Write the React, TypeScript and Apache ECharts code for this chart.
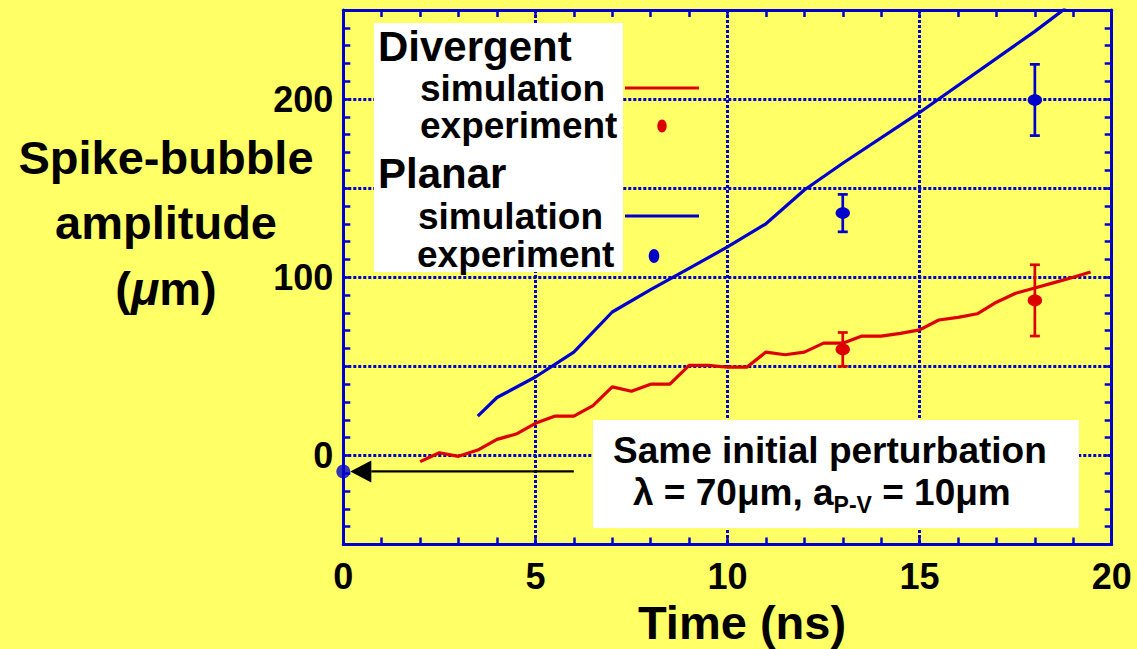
import React, { useEffect, useRef } from 'react';
import * as echarts from 'echarts';

const BLUE = '#0000cc';
const RED = '#dd0000';
const YELLOW = '#ffff66';
const FONT = '"Liberation Sans", Arial, Helvetica, sans-serif';

// Divergent geometry – simulation (ns, µm)
const divSimTime = [2, 2.5, 3, 3.5, 4, 4.5, 5, 5.5, 6, 6.5, 7, 7.5, 8, 8.5, 9, 9.5, 10, 10.5, 11, 11.5, 12, 12.5, 13, 13.5, 14, 14.5, 15, 15.5, 16, 16.5, 17, 17.5, 18, 18.5, 19, 19.45];
const divSimAmp = [-3.5, 1.5, -0.5, 3, 9, 12, 18, 22, 22, 28, 38.5, 36, 40, 40, 50.5, 50.5, 49.5, 49.5, 58, 56.5, 58, 63, 63, 67, 67, 68.5, 70.5, 76, 77.5, 79.5, 86, 91, 94, 97, 100, 103];

// Planar geometry – simulation
const planSimTime = [3.5, 4, 5, 6, 7, 8, 9, 10, 11, 12, 13, 15, 18, 18.8];
const planSimAmp = [22, 32.5, 44, 58, 80.5, 93, 105, 117, 130, 149, 164, 192.5, 238, 251];

// Experiments with error bars
const divExpTime = [13, 18];
const divExpAmp = [59.5, 87];
const divExpErr = [9.5, 20];
const planExpTime = [13, 18];
const planExpAmp = [136, 199.5];
const planExpErr = [10.5, 20];

// Initial perturbation marker and the arrow pointing at it
const initialPoint = [0, -9];
const arrowStart = [6, -9];

const yTickLabels = [0, 100, 200];

const errorBarItem = (color: string) => (params: any, api: any) => {
  const t = api.value(0);
  const a = api.value(1);
  const e = api.value(2);
  const top = api.coord([t, a + e]);
  const bot = api.coord([t, a - e]);
  const mid = api.coord([t, a]);
  const cap = 5;
  const ls = { stroke: color, lineWidth: 2.7 };
  return {
    type: 'group',
    children: [
      { type: 'line', shape: { x1: top[0], y1: top[1], x2: bot[0], y2: bot[1] }, style: ls },
      { type: 'line', shape: { x1: top[0] - cap, y1: top[1], x2: top[0] + cap, y2: top[1] }, style: ls },
      { type: 'line', shape: { x1: bot[0] - cap, y1: bot[1], x2: bot[0] + cap, y2: bot[1] }, style: ls },
      { type: 'ellipse', shape: { cx: mid[0], cy: mid[1], rx: 7.2, ry: 5.8 }, style: { fill: color } },
    ],
  };
};

const arrowItem = (params: any, api: any) => {
  const p0 = api.coord([api.value(0), api.value(1)]);
  const p1 = api.coord([api.value(2), api.value(3)]);
  const tipX = p1[0] + 7;
  const headLen = 21;
  const half = 11;
  return {
    type: 'group',
    children: [
      { type: 'line', shape: { x1: p0[0], y1: p0[1], x2: tipX + headLen, y2: p1[1] }, style: { stroke: '#000', lineWidth: 2.2 } },
      {
        type: 'polygon',
        shape: { points: [[tipX, p1[1]], [tipX + headLen, p1[1] - half], [tipX + headLen, p1[1] + half]] },
        style: { fill: '#000' },
      },
    ],
  };
};

const frameAxis = (extra: any) => ({
  type: 'value',
  axisLine: { show: true, onZero: false, lineStyle: { color: BLUE, width: 3 } },
  axisTick: { show: true, inside: true, length: 7, lineStyle: { color: BLUE, width: 2.5 } },
  minorTick: { show: true, splitNumber: 5, length: 7, lineStyle: { color: BLUE, width: 2.5 } },
  ...extra,
});

const gridDots = { show: true, showMinLine: false, showMaxLine: false, lineStyle: { color: BLUE, width: 3, type: [3, 2] } };

const txt = (text: string, x: number, y: number, size: number, align = 'left', extra: any = {}) => ({
  type: 'text',
  z: 20,
  style: {
    text,
    x,
    y,
    fontSize: size,
    fontWeight: 'bold',
    fontFamily: FONT,
    fill: '#000',
    align,
    textAlign: align,
    verticalAlign: 'middle',
    textVerticalAlign: 'middle',
    ...extra,
  },
});

const option: any = {
  animation: false,
  backgroundColor: YELLOW,
  grid: { left: 343.3, right: 25.3, top: 10, bottom: 104.5, containLabel: false },
  xAxis: [
    frameAxis({
      position: 'bottom',
      min: 0,
      max: 20,
      interval: 5,
      axisLabel: { show: true, fontSize: 36, fontWeight: 'bold', color: '#000', fontFamily: FONT, margin: 14 },
      splitLine: gridDots,
    }),
    frameAxis({ position: 'top', min: 0, max: 20, interval: 5, axisLabel: { show: false }, splitLine: { show: false } }),
  ],
  yAxis: [
    frameAxis({
      position: 'left',
      min: -50,
      max: 250,
      interval: 50,
      axisLabel: {
        show: true,
        fontSize: 36,
        fontWeight: 'bold',
        color: '#000',
        fontFamily: FONT,
        margin: 10,
        formatter: (v: number) => (yTickLabels.includes(v) ? String(v) : ''),
      },
      splitLine: gridDots,
    }),
    frameAxis({ position: 'right', min: -50, max: 250, interval: 50, axisLabel: { show: false }, splitLine: { show: false } }),
  ],
  series: [
    {
      name: 'Divergent simulation',
      type: 'line',
      data: divSimTime.map((t, i) => [t, divSimAmp[i]]),
      showSymbol: false,
      lineStyle: { color: RED, width: 3.2 },
      itemStyle: { color: RED },
      z: 3,
    },
    {
      name: 'Planar simulation',
      type: 'line',
      data: planSimTime.map((t, i) => [t, planSimAmp[i]]),
      showSymbol: false,
      lineStyle: { color: BLUE, width: 3.2 },
      itemStyle: { color: BLUE },
      z: 3,
    },
    {
      name: 'Divergent experiment',
      type: 'custom',
      renderItem: errorBarItem(RED),
      data: divExpTime.map((t, i) => [t, divExpAmp[i], divExpErr[i]]),
      encode: { x: 0, y: 1 },
      z: 4,
    },
    {
      name: 'Planar experiment',
      type: 'custom',
      renderItem: errorBarItem(BLUE),
      data: planExpTime.map((t, i) => [t, planExpAmp[i], planExpErr[i]]),
      encode: { x: 0, y: 1 },
      z: 4,
    },
    {
      name: 'Initial perturbation',
      type: 'scatter',
      data: [initialPoint],
      symbol: 'circle',
      symbolSize: 14,
      itemStyle: { color: BLUE },
      clip: false,
      z: 6,
    },
    {
      name: 'Arrow',
      type: 'custom',
      renderItem: arrowItem,
      data: [[arrowStart[0], arrowStart[1], initialPoint[0], initialPoint[1]]],
      encode: { x: [0, 2], y: [1, 3] },
      clip: false,
      z: 5,
    },
  ],
  graphic: [
    // legend panel
    { type: 'rect', z: 10, shape: { x: 374, y: 23, width: 249, height: 249 }, style: { fill: '#ffffff' } },
    txt('Divergent', 378, 46, 42),
    txt('simulation', 420, 88, 37),
    { type: 'line', z: 20, shape: { x1: 625, y1: 88, x2: 699, y2: 88 }, style: { stroke: RED, lineWidth: 3 } },
    txt('experiment', 420, 125, 37),
    { type: 'ellipse', z: 20, shape: { cx: 662, cy: 126, rx: 4.7, ry: 6.5 }, style: { fill: RED } },
    txt('Planar', 378, 173, 42),
    txt('simulation', 418, 216, 37),
    { type: 'line', z: 20, shape: { x1: 625, y1: 216, x2: 699, y2: 216 }, style: { stroke: BLUE, lineWidth: 3 } },
    txt('experiment', 417, 254, 37),
    { type: 'ellipse', z: 20, shape: { cx: 654, cy: 256, rx: 5.3, ry: 7 }, style: { fill: BLUE } },

    // annotation panel
    { type: 'rect', z: 10, shape: { x: 593, y: 420, width: 486, height: 108 }, style: { fill: '#ffffff' } },
    txt('Same initial perturbation', 613, 450, 37),
    txt('{m|λ = 70μm, a}{s|P-V}{m| = 10μm}', 633, 492, 37, 'left', {
      rich: {
        m: { fontSize: 37, fontWeight: 'bold', fontFamily: FONT, fill: '#000', color: '#000' },
        s: { fontSize: 23, fontWeight: 'bold', fontFamily: FONT, fill: '#000', color: '#000', padding: [25, 0, 0, 0] },
      },
    }),

    // axis titles
    txt('Spike-bubble', 166, 157, 47, 'center'),
    txt('amplitude', 166, 222, 47, 'center'),
    txt('{n|(}{i|μ}{n|m)}', 166, 288, 47, 'center', {
      rich: {
        n: { fontSize: 47, fontWeight: 'bold', fontFamily: FONT, fill: '#000', color: '#000' },
        i: { fontSize: 47, fontWeight: 'bold', fontStyle: 'italic', fontFamily: FONT, fill: '#000', color: '#000' },
      },
    }),
    txt('Time (ns)', 742, 622, 47, 'center'),
  ],
};

export default function App() {
  const ref = useRef<HTMLDivElement>(null);
  useEffect(() => {
    const chart = echarts.init(ref.current as HTMLDivElement, null, { renderer: 'svg' });
    chart.setOption(option);
    return () => chart.dispose();
  }, []);
  return <div ref={ref} style={{ position: 'fixed', left: 0, top: 0, width: 1137, height: 649 }} />;
}
